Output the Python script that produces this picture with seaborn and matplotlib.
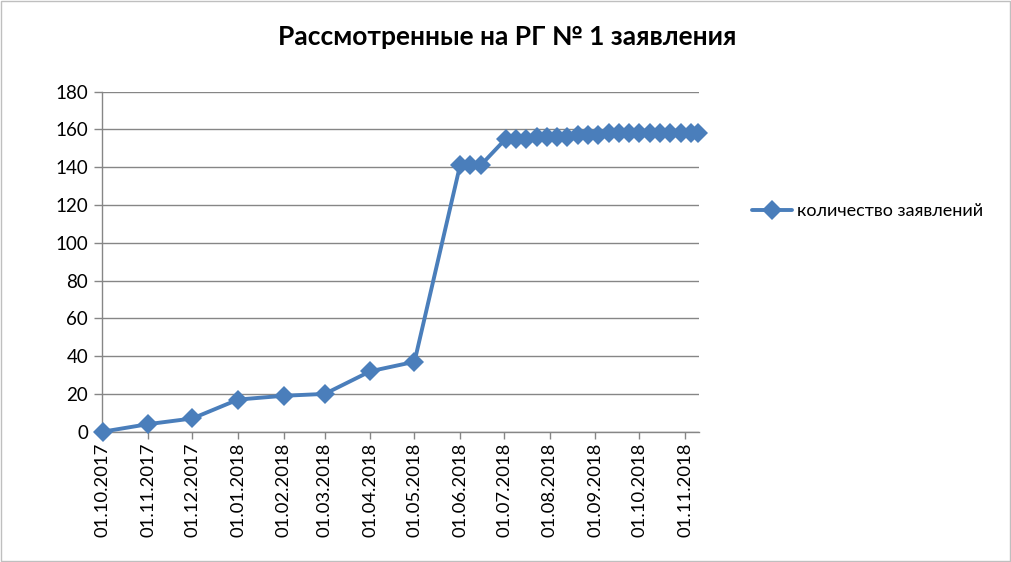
import matplotlib
matplotlib.use("Agg")
import matplotlib.pyplot as plt
import matplotlib.dates as mdates
import seaborn as sns
import pandas as pd
from matplotlib.patches import Rectangle

# ---- data ----
dates = [
    "2017-10-01", "2017-11-01", "2017-12-01", "2018-01-01", "2018-02-01",
    "2018-03-01", "2018-04-01", "2018-05-01", "2018-06-01", "2018-06-08",
    "2018-06-15", "2018-07-02", "2018-07-09", "2018-07-16", "2018-07-23",
    "2018-07-30", "2018-08-06", "2018-08-13", "2018-08-20", "2018-08-27",
    "2018-09-03", "2018-09-10", "2018-09-17", "2018-09-24", "2018-10-01",
    "2018-10-08", "2018-10-15", "2018-10-22", "2018-10-29", "2018-11-05",
    "2018-11-10",
]
counts = [
    0, 4, 7, 17, 19,
    20, 32, 37, 141, 141,
    141, 155, 155, 155, 156,
    156, 156, 156, 157, 157,
    157, 158, 158, 158, 158,
    158, 158, 158, 158, 158,
    158,
]
tick_dates = [
    "2017-10-01", "2017-11-01", "2017-12-01", "2018-01-01", "2018-02-01",
    "2018-03-01", "2018-04-01", "2018-05-01", "2018-06-01", "2018-07-01",
    "2018-08-01", "2018-09-01", "2018-10-01", "2018-11-01",
]
y_ticks = [0, 20, 40, 60, 80, 100, 120, 140, 160, 180]
series_name = "количество заявлений"
title = "Рассмотренные на РГ № 1 заявления"

df = pd.DataFrame({"date": pd.to_datetime(dates), "value": counts})

sns.set_theme(style="white")
plt.rcParams["font.family"] = ["Lato", "DejaVu Sans"]

line_color = "#4A7EBB"
grid_color = "#868686"

fig = plt.figure(figsize=(10.12, 5.62), dpi=100)
ax = fig.add_axes([0.1008, 0.2319, 0.5899, 0.6049])

sns.lineplot(data=df, x="date", y="value", ax=ax, color=line_color,
             linewidth=2.8, marker="D", markersize=10, markeredgewidth=0,
             label=series_name, zorder=3, clip_on=False)

ax.set_xlim(pd.Timestamp("2017-09-30 12:00"), pd.Timestamp("2018-11-10 12:00"))
ax.set_ylim(0, 180)
ax.set_yticks(y_ticks)
ax.set_xticks(pd.to_datetime(tick_dates))
ax.xaxis.set_major_formatter(mdates.DateFormatter("%d.%m.%Y"))
ax.tick_params(axis="x", labelrotation=90, labelsize=13.3, length=5, width=1,
               color=grid_color, direction="out", pad=3, bottom=True)
ax.tick_params(axis="y", labelsize=13.5, length=6, width=1, color=grid_color,
               direction="out", pad=4, left=True)
for lab in ax.get_xticklabels() + ax.get_yticklabels():
    lab.set_color("#000000")

ax.grid(axis="y", color=grid_color, linewidth=1)
ax.grid(axis="x", visible=False)
ax.set_axisbelow(True)
for s in ["top", "right"]:
    ax.spines[s].set_visible(False)
for s in ["left", "bottom"]:
    ax.spines[s].set_color(grid_color)
    ax.spines[s].set_linewidth(1)
ax.set_xlabel("")
ax.set_ylabel("")

leg = ax.legend(loc="center left", bbox_to_anchor=(0.727, 0.6246),
                bbox_transform=fig.transFigure, frameon=False, fontsize=13,
                handlelength=2.2, handletextpad=0.3)
for t in leg.get_texts():
    t.set_color("#000000")

fig.text(0.501, 0.934, title, ha="center", va="center", fontsize=19,
         fontweight="bold", color="#000000")

fig.patches.append(Rectangle((0.001, 0.002), 0.997, 0.996, transform=fig.transFigure,
                             fill=False, edgecolor="#BFBFBF", linewidth=1))

fig.savefig("out.png", dpi=100)
